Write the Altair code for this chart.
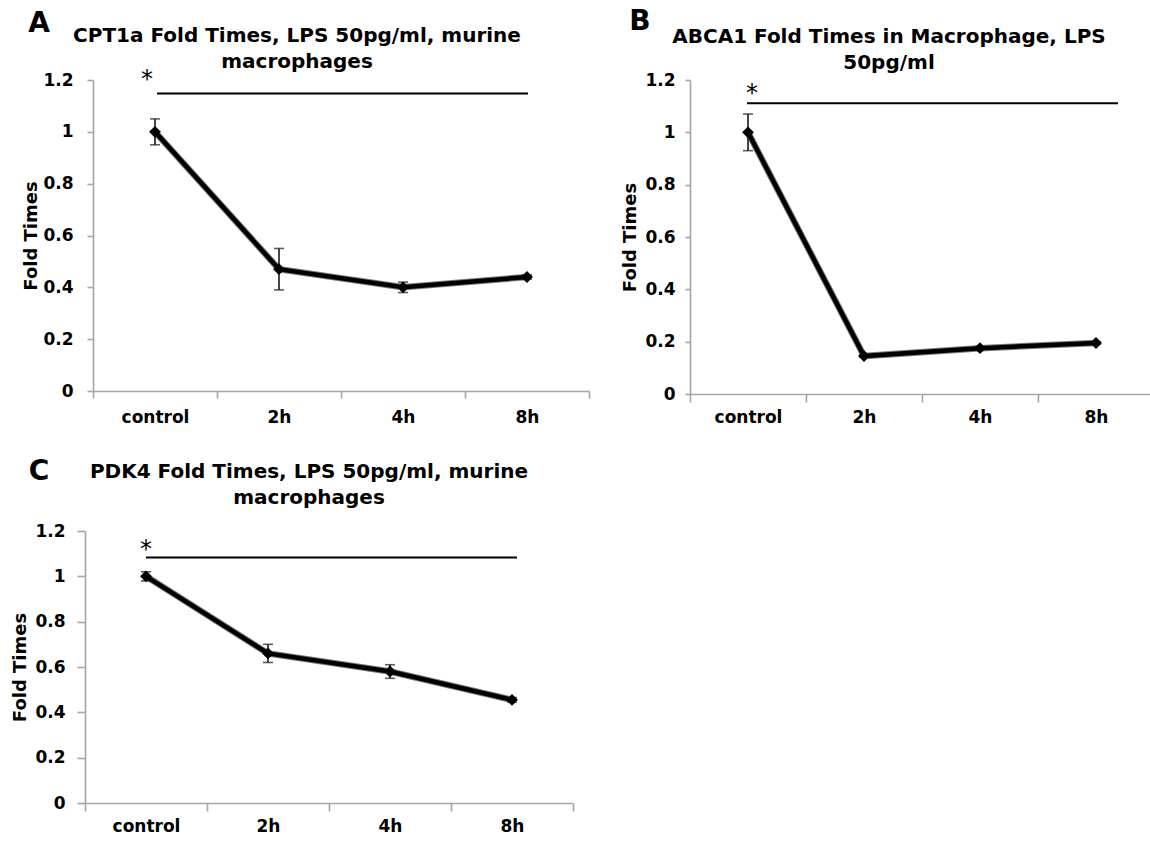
import altair as alt
import pandas as pd

# ---- data -------------------------------------------------------------
categories = ["control", "2h", "4h", "8h"]

cpt1a_fold = [1.0, 0.47, 0.40, 0.44]
cpt1a_err = [0.05, 0.08, 0.02, 0.008]

abca1_fold = [1.0, 0.145, 0.175, 0.195]
abca1_err = [0.07, 0.004, 0.004, 0.005]

pdk4_fold = [1.0, 0.66, 0.58, 0.455]
pdk4_err = [0.02, 0.04, 0.03, 0.01]

panel_letters = ["A", "B", "C"]
panel_titles = [
    "CPT1a Fold Times, LPS 50pg/ml, murine\nmacrophages",
    "ABCA1 Fold Times in Macrophage, LPS\n50pg/ml",
    "PDK4 Fold Times, LPS 50pg/ml, murine\nmacrophages",
]
sig_levels = [1.148, 1.111, 1.083]   # height of the significance bar
y_ticks = [0, 0.2, 0.4, 0.6, 0.8, 1.0, 1.2]

# ---- page layout --------------------------------------------------------
PAGE_W, PAGE_H = 1150, 844
FONT = "DejaVu Sans"
AXIS_GREY = "#a6a6a6"

layouts = [
    dict(left=93, right=589, top=80, bottom=391, ytick=6, ypad=14, xtick=7, xpad=11,
         title_x=-57, head=(297, 42), letter=(39, 32), star=(147, 87), bar=(157, 528)),
    dict(left=690, right=1154, top=80, bottom=394, ytick=5, ypad=10, xtick=8, xpad=7,
         title_x=-55, head=(889, 43), letter=(640, 30), star=(752, 101), bar=(747, 1118)),
    dict(left=85, right=573, top=531, bottom=803, ytick=8, ypad=12, xtick=8, xpad=7,
         title_x=-60, head=(309, 478), letter=(39, 480), star=(146, 557), bar=(146, 517)),
]


def panel(letter, title, fold, err, sig, lay):
    df = pd.DataFrame({"time": categories, "fold": fold, "err": err})
    df["lo"] = df["fold"] - df["err"]
    df["hi"] = df["fold"] + df["err"]

    x_axis = alt.Axis(
        orient="bottom", offset=lay["bottom"] - PAGE_H, title=None, labelAngle=0,
        tickBand="extent", tickSize=lay["xtick"], labelPadding=lay["xpad"],
    )
    y_axis = alt.Axis(
        orient="left", offset=-lay["left"], values=y_ticks, format="~g",
        title="Fold Times", tickSize=lay["ytick"], labelPadding=lay["ypad"],
        titleX=lay["title_x"], titleBaseline="alphabetic", grid=False,
    )
    x_scale = alt.Scale(type="band", domain=categories,
                        range=[lay["left"], lay["right"]], paddingInner=0, paddingOuter=0)
    y_scale = alt.Scale(domain=[0, 1.2], range=[lay["bottom"], lay["top"]],
                        nice=False, zero=False)

    x = alt.X("time:N", sort=categories, bandPosition=0.5, scale=x_scale, axis=x_axis)

    def yq(field):
        return alt.Y(f"{field}:Q", scale=y_scale, axis=y_axis)

    base = alt.Chart(df)
    shadow = base.mark_line(color="#7a7a7a", strokeWidth=6.5).encode(x=x, y=yq("fold"))
    line = base.mark_line(color="black", strokeWidth=4.5).encode(x=x, y=yq("fold"))
    whisker = base.mark_rule(color="#1a1a1a", strokeWidth=1.6).encode(
        x=x, y=yq("lo"), y2="hi:Q")
    cap_lo = base.mark_tick(orient="horizontal", color="#1a1a1a", size=10,
                            thickness=1.6).encode(x=x, y=yq("lo"))
    cap_hi = base.mark_tick(orient="horizontal", color="#1a1a1a", size=10,
                            thickness=1.6).encode(x=x, y=yq("hi"))
    dots = base.mark_point(shape="diamond", filled=True, color="black", size=140,
                           opacity=1).encode(x=x, y=yq("fold"))

    sig_bar = alt.Chart(pd.DataFrame({"level": [sig]})).mark_rule(
        color="black", strokeWidth=2
    ).encode(x=alt.value(lay["bar"][0]), x2=alt.value(lay["bar"][1]), y=yq("level"))

    star = alt.Chart(pd.DataFrame({"mark": ["*"]})).mark_text(
        font=FONT, fontSize=24, align="center", baseline="alphabetic", color="black"
    ).encode(text="mark:N", x=alt.value(lay["star"][0]), y=alt.value(lay["star"][1]))

    heading = alt.Chart(pd.DataFrame({"label": [title]})).mark_text(
        font=FONT, fontSize=20, fontWeight="bold", align="center",
        baseline="alphabetic", lineBreak="\n", lineHeight=26, color="black"
    ).encode(text="label:N", x=alt.value(lay["head"][0]), y=alt.value(lay["head"][1]))

    tag = alt.Chart(pd.DataFrame({"label": [letter]})).mark_text(
        font=FONT, fontSize=28, fontWeight="bold", align="center",
        baseline="alphabetic", color="black"
    ).encode(text="label:N", x=alt.value(lay["letter"][0]), y=alt.value(lay["letter"][1]))

    return alt.layer(shadow, whisker, cap_lo, cap_hi, line, dots, sig_bar, star, heading, tag)


series = [(cpt1a_fold, cpt1a_err), (abca1_fold, abca1_err), (pdk4_fold, pdk4_err)]
panels = [
    panel(panel_letters[i], panel_titles[i], series[i][0], series[i][1], sig_levels[i], layouts[i])
    for i in range(3)
]

chart = (
    alt.layer(*panels)
    .resolve_scale(x="independent", y="independent")
    .resolve_axis(x="independent", y="independent")
    .properties(width=PAGE_W, height=PAGE_H, padding=0,
                autosize=alt.AutoSizeParams(type="none"), background="white")
    .configure_view(stroke=None)
    .configure_axis(
        labelFont=FONT, labelFontWeight="bold", labelFontSize=17, labelColor="black",
        titleFont=FONT, titleFontWeight="bold", titleFontSize=18, titleColor="black",
        domainColor=AXIS_GREY, tickColor=AXIS_GREY, domainWidth=1.6, tickWidth=1.6,
        grid=False,
    )
)

chart.save("out.html", embed_options={"renderer": "svg", "actions": False})
